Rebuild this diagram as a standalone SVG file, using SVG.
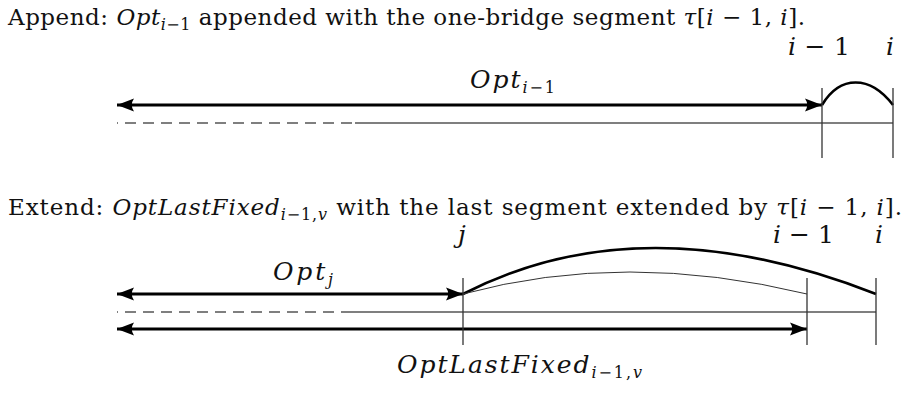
<svg xmlns="http://www.w3.org/2000/svg" width="907" height="396" viewBox="0 0 907 396">
<style>
text{font-family:"DejaVu Serif","Liberation Serif",serif;font-size:23px;fill:#111}
.lb{font-size:25px}
.m{font-style:italic}
.s{font-size:16px}
.thick{stroke:#000;stroke-width:3;fill:none}
.thin{stroke:#555;stroke-width:1.3;fill:none}
.tick{stroke:#333;stroke-width:1.3;fill:none}
.dash{stroke:#555;stroke-width:1.4;fill:none;stroke-dasharray:11 7}
.curve{stroke:#000;stroke-width:2.6;fill:none}
.curvethin{stroke:#333;stroke-width:1;fill:none}
</style>
<defs>
<marker id="ah" markerUnits="userSpaceOnUse" viewBox="-17 -8 19 16" refX="0" refY="0" markerWidth="19" markerHeight="16" orient="auto-start-reverse">
<path d="M0,0 L-17,-6.5 Q-12.5,0 -17,6.5 Z" fill="#000"/>
</marker>
</defs>
<g id="titles">
<text id="title-append" x="8" y="25" textLength="797" lengthAdjust="spacing">Append: <tspan class="m">Opt</tspan><tspan class="s" dy="5"><tspan class="m">i</tspan>−1</tspan><tspan dy="-5"> appended with the one-bridge segment </tspan><tspan class="m">τ</tspan>[<tspan class="m">i</tspan> − 1, <tspan class="m">i</tspan>].</text>
<text id="title-extend" x="8" y="215" textLength="894" lengthAdjust="spacing">Extend: <tspan class="m">OptLastFixed</tspan><tspan class="s" dy="5"><tspan class="m">i</tspan>−1,<tspan class="m">v</tspan></tspan><tspan dy="-5"> with the last segment extended by </tspan><tspan class="m">τ</tspan>[<tspan class="m">i</tspan> − 1, <tspan class="m">i</tspan>].</text>
</g>
<g id="connectors">
<line class="thick" x1="117" y1="105" x2="822" y2="105" marker-start="url(#ah)" marker-end="url(#ah)"/>
<line class="dash" x1="117" y1="123" x2="352" y2="123" stroke-dashoffset="10"/>
<line class="thin" x1="355" y1="123" x2="893" y2="123"/>
<path class="curve" d="M822,105 C840,75 870,75 893,105"/>
<line class="thick" x1="117" y1="294" x2="463" y2="294" marker-start="url(#ah)" marker-end="url(#ah)"/>
<line class="dash" x1="117" y1="312" x2="352" y2="312" stroke-dashoffset="10"/>
<line class="thin" x1="352" y1="312" x2="876" y2="312"/>
<line class="thick" x1="117" y1="329" x2="807" y2="329" marker-start="url(#ah)" marker-end="url(#ah)"/>
<path class="curve" d="M463,294 Q642,202 876,294"/>
<path class="curvethin" d="M463,294 Q625,250 807,294"/>
</g>
<g id="tick-i-1-top"><line class="tick" x1="822" y1="88" x2="822" y2="158"/><text class="lb" x="788" y="55" textLength="62" lengthAdjust="spacing"><tspan class="m">i</tspan> − 1</text></g>
<g id="tick-i-top"><line class="tick" x1="893" y1="88" x2="893" y2="158"/><text class="m lb" x="886" y="55">i</text></g>
<g id="label-opt-i-1"><text class="lb" x="470" y="88" textLength="85" lengthAdjust="spacing"><tspan class="m">Opt</tspan><tspan class="s" dy="5"><tspan class="m">i</tspan>−1</tspan></text></g>
<g id="tick-j"><line class="tick" x1="463" y1="278" x2="463" y2="345"/><text class="m lb" x="458" y="243">j</text></g>
<g id="tick-i-1-bottom"><line class="tick" x1="807" y1="278" x2="807" y2="345"/><text class="lb" x="773" y="243" textLength="61" lengthAdjust="spacing"><tspan class="m">i</tspan> − 1</text></g>
<g id="tick-i-bottom"><line class="tick" x1="876" y1="278" x2="876" y2="345"/><text class="m lb" x="875" y="243">i</text></g>
<g id="label-opt-j"><text class="lb" x="273" y="280" textLength="60" lengthAdjust="spacing"><tspan class="m">Opt</tspan><tspan class="s m" dy="5">j</tspan></text></g>
<g id="label-optlastfixed"><text class="lb" x="397" y="373" textLength="245" lengthAdjust="spacing"><tspan class="m">OptLastFixed</tspan><tspan class="s" dy="5"><tspan class="m">i</tspan>−1,<tspan class="m">v</tspan></tspan></text></g>
</svg>
